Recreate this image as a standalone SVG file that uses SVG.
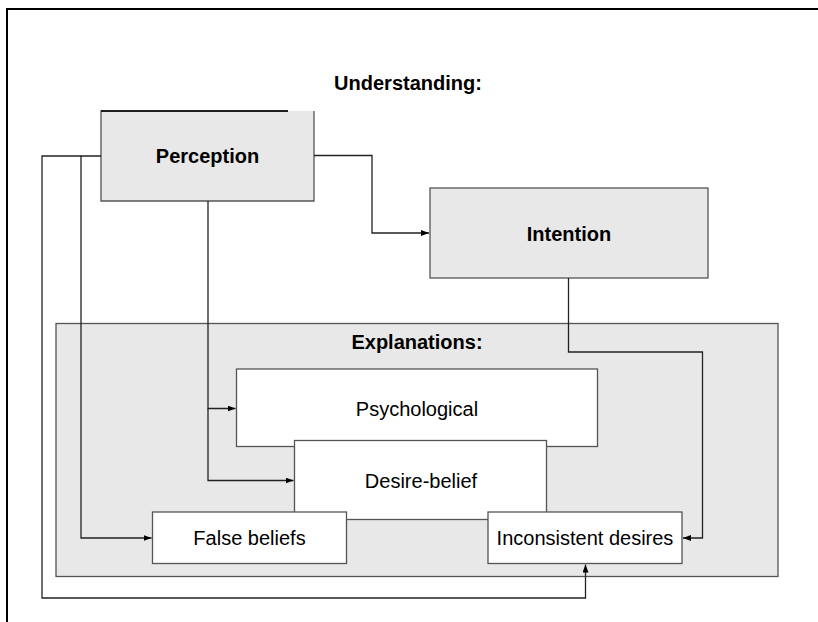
<svg xmlns="http://www.w3.org/2000/svg" width="818" height="622" viewBox="0 0 818 622">
  <style>
    .frame { fill: none; stroke: #000; stroke-width: 2; }
    .shaded { fill: #e8e8e8; stroke: #555; stroke-width: 1.3; }
    .plain { fill: #fff; stroke: #555; stroke-width: 1.3; }
    .edge { fill: none; stroke: #222; stroke-width: 1.3; }
    .title { font-family: "Liberation Sans", Arial, sans-serif; font-size: 20px; font-weight: bold; fill: #000; text-anchor: middle; }
    .label { font-family: "Liberation Sans", Arial, sans-serif; font-size: 20px; fill: #000; text-anchor: middle; }
  </style>
  <defs>
    <marker id="arrow" viewBox="0 0 8 6" refX="8" refY="3" markerWidth="8" markerHeight="6" markerUnits="userSpaceOnUse" orient="auto">
      <path d="M0,0 L8,3 L0,6 Z" fill="#000"/>
    </marker>
  </defs>

  <rect width="818" height="622" fill="#fff"/>
  <path class="frame" d="M7,622 V9 H818"/>

  <text class="title" x="408" y="90">Understanding:</text>

  <!-- Explanations container -->
  <g id="explanations">
    <rect class="shaded" x="56" y="323.5" width="722" height="253"/>
    <text class="title" x="417" y="349">Explanations:</text>
  </g>

  <g id="perception">
    <rect x="101" y="111" width="213" height="90" fill="#e8e8e8"/>
    <path d="M288,111 H101 V201 H314 V111" fill="none" stroke="#555" stroke-width="1.3"/>
    <path d="M101,111 H288" fill="none" stroke="#000" stroke-width="1.3"/>
    <text class="title" x="207.5" y="163">Perception</text>
  </g>

  <g id="intention">
    <rect class="shaded" x="430" y="188" width="278" height="90"/>
    <text class="title" x="569" y="241">Intention</text>
  </g>

  <g id="psychological">
    <rect class="plain" x="236.5" y="369" width="361" height="77.5"/>
    <text class="label" x="417" y="416">Psychological</text>
  </g>

  <g id="desire-belief">
    <rect class="plain" x="294.5" y="440.5" width="252" height="79"/>
    <text class="label" x="421" y="488">Desire-belief</text>
  </g>

  <g id="false-beliefs">
    <rect class="plain" x="152.5" y="512" width="194" height="51.5"/>
    <text class="label" x="249.5" y="545">False beliefs</text>
  </g>

  <g id="inconsistent-desires">
    <rect class="plain" x="488" y="512" width="194" height="51.5"/>
    <text class="label" x="585" y="545">Inconsistent desires</text>
  </g>

  <g id="connectors">
    <path class="edge" d="M314,155.5 H372 V233 H429" marker-end="url(#arrow)"/>
    <path class="edge" d="M208,201 V408.5 H235.5" marker-end="url(#arrow)"/>
    <path class="edge" d="M208,408.5 V480.5 H293.5" marker-end="url(#arrow)"/>
    <path class="edge" d="M101,156 H81 V538 H151.5" marker-end="url(#arrow)"/>
    <path class="edge" d="M81,156 H42 V598 H585.5 V564.5" marker-end="url(#arrow)"/>
    <path class="edge" d="M568.5,278 V352 H702.5 V538 H683" marker-end="url(#arrow)"/>
  </g>
</svg>
